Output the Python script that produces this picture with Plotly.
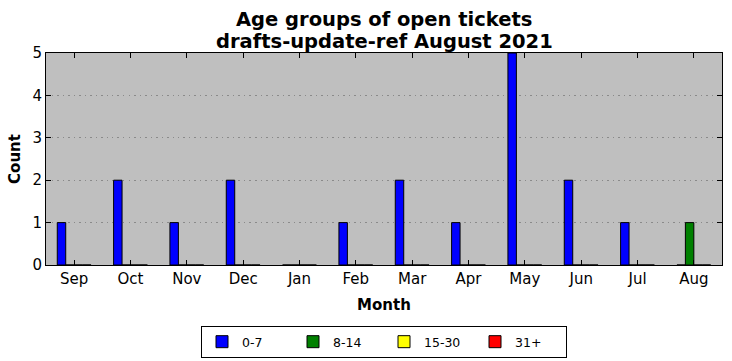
import plotly.graph_objects as go

months = ["Sep", "Oct", "Nov", "Dec", "Jan", "Feb", "Mar", "Apr", "May", "Jun", "Jul", "Aug"]
age_0_7 = [1, 2, 1, 2, 0, 1, 2, 1, 5, 2, 1, 0]
age_8_14 = [0, 0, 0, 0, 0, 0, 0, 0, 0, 0, 0, 1]
age_15_30 = [0, 0, 0, 0, 0, 0, 0, 0, 0, 0, 0, 0]
age_31_plus = [0, 0, 0, 0, 0, 0, 0, 0, 0, 0, 0, 0]

series = [
    ("0-7", age_0_7, "#0000ff"),
    ("8-14", age_8_14, "#008000"),
    ("15-30", age_15_30, "#ffff00"),
    ("31+", age_31_plus, "#ff0000"),
]

title_lines = ["Age groups of open tickets", "drafts-update-ref August 2021"]

FONT = "DejaVu Sans"

fig = go.Figure()
for name, vals, color in series:
    fig.add_trace(go.Bar(
        x=months, y=vals, name=name,
        marker=dict(color=color, line=dict(color="black", width=1)),
    ))

for line, shift in zip(title_lines, [34, 12]):
    fig.add_annotation(
        text="<b>" + line + "</b>",
        xref="paper", yref="paper", x=0.5, y=1,
        xanchor="center", yanchor="middle", yshift=shift,
        showarrow=False,
        font=dict(family=FONT, size=19.5, color="black"),
    )

fig.update_layout(
    width=732, height=361,
    margin=dict(l=46, r=10, t=53, b=96, autoexpand=False),
    paper_bgcolor="white",
    plot_bgcolor="#bfbfbf",
    barmode="group",
    bargap=0.4,
    bargroupgap=0,
    font=dict(family=FONT, size=15, color="black"),
    showlegend=True,
    legend=dict(
        orientation="h",
        x=0.5, xanchor="center", xref="paper",
        y=-0.288, yanchor="top",
        bgcolor="white", bordercolor="black", borderwidth=1,
        font=dict(family=FONT, size=12.5, color="black"),
        itemwidth=30,
        entrywidth=46, entrywidthmode="pixels",
    ),
)

fig.update_xaxes(
    type="category",
    categoryorder="array", categoryarray=months,
    range=[-0.5, 11.5],
    automargin=False,
    showline=True, linecolor="black", linewidth=1, mirror="ticks",
    ticks="inside", ticklen=5, tickcolor="black",
    showgrid=False,
    tickfont=dict(family=FONT, size=15),
    title=dict(text="<b>Month</b>", font=dict(family=FONT, size=15), standoff=12),
)
fig.update_yaxes(
    range=[0, 5],
    dtick=1, tick0=0,
    automargin=False,
    showline=True, linecolor="black", linewidth=1, mirror="ticks",
    ticks="inside", ticklen=5, tickcolor="black",
    showgrid=True, gridcolor="#8a8a8a", gridwidth=1, griddash="1.5px,4px",
    zeroline=False,
    tickfont=dict(family=FONT, size=15),
    title=dict(text="<b>Count</b>", font=dict(family=FONT, size=15), standoff=8),
)

fig.write_html(
    "out.html",
    config={"displayModeBar": False},
    post_script="document.body.style.margin='0';document.body.style.overflow='hidden';",
)
